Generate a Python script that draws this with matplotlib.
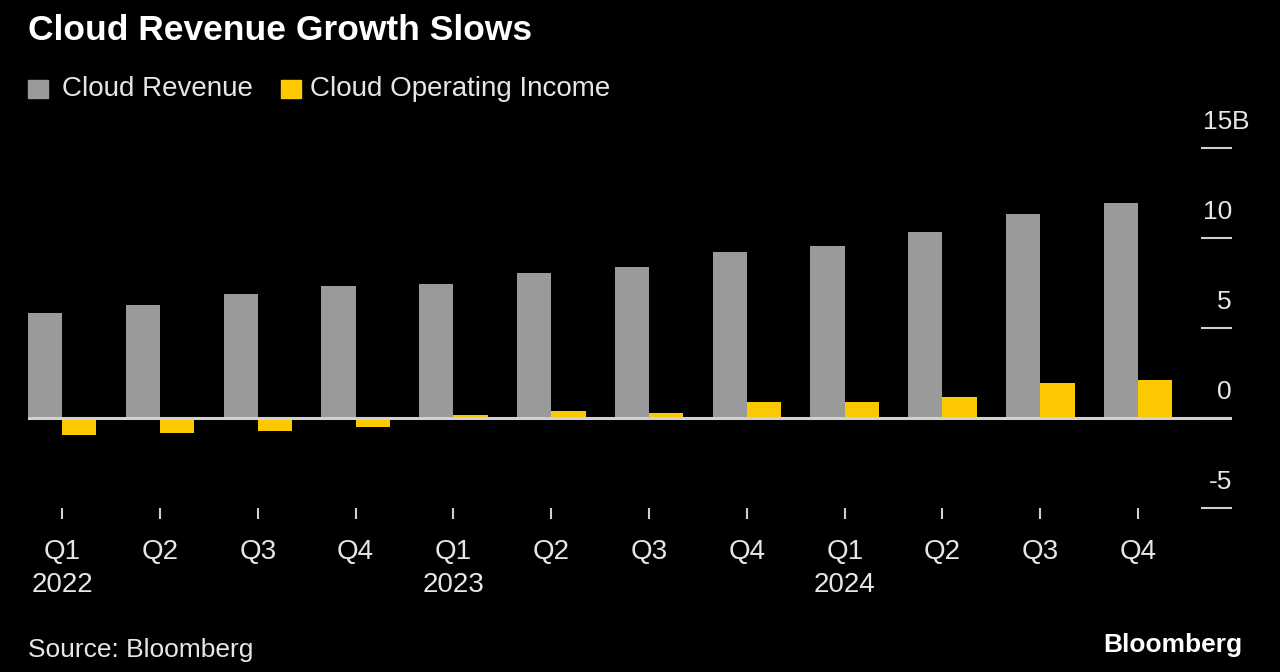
import numpy as np
import matplotlib.pyplot as plt
from matplotlib.transforms import offset_copy

# Quarterly cloud figures, billions USD
quarters = ["Q1", "Q2", "Q3", "Q4"] * 3
years = {0: "2022", 4: "2023", 8: "2024"}
cloud_revenue = [5.82, 6.28, 6.87, 7.32, 7.45, 8.03, 8.41, 9.19, 9.57, 10.35, 11.35, 11.96]
cloud_op_income = [-0.93, -0.86, -0.70, -0.48, 0.19, 0.40, 0.27, 0.86, 0.90, 1.17, 1.95, 2.09]
y_ticks = [-5, 0, 5, 10, 15]
y_tick_labels = ["-5", "0", "5", "10", "15"]

BG = "#000000"
GREY = "#9a9a9a"
YELLOW = "#fcc800"
TXT = "#e6e6e6"

plt.rcParams['font.family'] = ['Liberation Sans', 'DejaVu Sans']

fig = plt.figure(figsize=(12.8, 6.72), dpi=100, facecolor=BG)
ax = fig.add_axes([0.0219, 0.244, 0.9406, 0.536], facecolor=BG)

x = np.arange(len(cloud_revenue))
w = 0.35
ax.bar(x - w / 2, cloud_revenue, width=w, color=GREY)
ax.bar(x + w / 2, cloud_op_income, width=w, color=YELLOW)
ax.axhline(0, color="#d0d0d0", lw=2.2, zorder=3)

ax.set_xlim(-0.35, 11.96)
ax.set_ylim(-5, 15)

for s in ax.spines.values():
    s.set_visible(False)

# x ticks
labels = [q + ("\n" + years[i] if i in years else "") for i, q in enumerate(quarters)]
ax.set_xticks(x)
ax.set_xticklabels(labels, color=TXT, fontsize=20, linespacing=1.35, va="top")
ax.tick_params(axis="x", colors="#cfcfcf", length=8, width=1.5, pad=14, labelcolor=TXT)

# y ticks drawn as short lines at the right with labels sitting above them
ax.set_yticks(y_ticks)
ax.set_yticklabels([])
ax.tick_params(axis="y", left=False, right=True, direction="in", length=22, width=1.5,
               colors="#d0d0d0")
tr = offset_copy(ax.get_yaxis_transform(), fig=fig, x=0, y=26, units="dots")
for v, lab in zip(y_ticks, y_tick_labels):
    ax.text(1.0, v, lab, transform=tr, ha="right", va="center", color=TXT, fontsize=19)
ax.text(1.0, 15, "B", transform=tr, ha="left", va="center", color=TXT, fontsize=19)

# title and legend
fig.text(0.022, 1 - 31 / 672, "Cloud Revenue Growth Slows", color="white", fontsize=25.5,
         fontweight="bold", va="center")
fig.patches.append(plt.Rectangle((28 / 1280, 1 - 98 / 672), 20 / 1280, 18 / 672,
                                 transform=fig.transFigure, color=GREY))
fig.text(62 / 1280, 1 - 89 / 672, "Cloud Revenue", color=TXT, fontsize=20, va="center")
fig.patches.append(plt.Rectangle((281 / 1280, 1 - 98 / 672), 20 / 1280, 18 / 672,
                                 transform=fig.transFigure, color=YELLOW))
fig.text(310 / 1280, 1 - 89 / 672, "Cloud Operating Income", color=TXT, fontsize=20, va="center")

fig.text(0.022, 1 - 650 / 672, "Source: Bloomberg", color=TXT, fontsize=19, va="center")
fig.text(1242 / 1280, 1 - 645 / 672, "Bloomberg", color="white", fontsize=19,
         fontweight="bold", ha="right", va="center")

fig.savefig("out.png", dpi=100, facecolor=BG)
